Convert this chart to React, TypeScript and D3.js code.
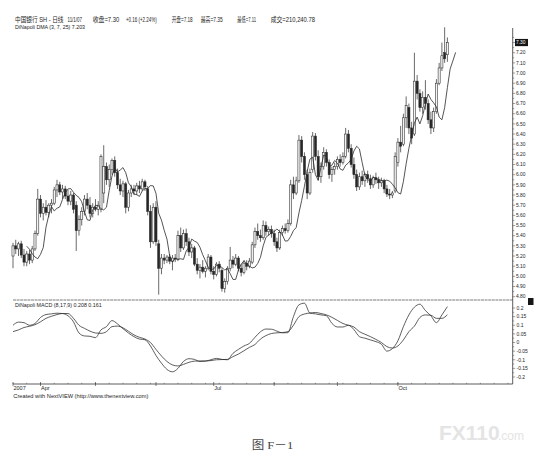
import React from "react";
import * as d3 from "d3";

// Daily OHLC for 中国银行 (SH), one entry per trading session
const opens = [
  5.20, 5.30, 5.27, 5.32, 5.21, 5.14, 5.22, 5.16, 5.27, 5.42,
  5.76, 5.62, 5.68, 5.63, 5.70, 5.72, 5.85, 5.90, 5.83, 5.86,
  5.79, 5.74, 5.80, 5.70, 5.45, 5.56, 5.64, 5.76, 5.70, 5.62,
  5.68, 5.66, 5.66, 5.82, 6.08, 5.95, 6.05, 6.14, 6.02, 5.90,
  5.84, 5.91, 5.68, 5.82, 5.86, 5.84, 5.89, 5.86, 5.93, 5.86,
  5.64, 5.34, 5.68, 5.32, 5.08, 5.18, 5.16, 5.19, 5.15, 5.18,
  5.17, 5.40, 5.28, 5.42, 5.34, 5.24, 5.28, 5.12, 5.06, 5.09,
  5.05, 5.08, 5.19, 5.05, 5.02, 5.12, 5.06, 4.88, 4.95, 5.08,
  5.16, 5.12, 5.18, 5.08, 5.04, 5.13, 5.10, 5.14, 5.31, 5.44,
  5.40, 5.38, 5.50, 5.44, 5.46, 5.42, 5.34, 5.28, 5.43, 5.47,
  5.45, 5.52, 5.90, 5.82, 5.94, 6.34, 6.18, 6.00, 5.82, 6.05,
  6.38, 6.18, 5.98, 6.08, 6.22, 6.12, 6.00, 6.05, 6.08, 6.15,
  6.12, 6.18, 6.40, 6.26, 6.10, 6.00, 5.88, 5.98, 5.94, 6.00,
  5.96, 5.90, 5.97, 5.95, 5.92, 5.94, 5.86, 5.81, 5.80, 5.84,
  6.12, 6.32, 6.30, 6.56, 6.66, 6.46, 6.40, 6.92, 6.80, 6.66,
  6.76, 6.70, 6.54, 6.46, 6.62, 6.90, 7.05, 7.20, 7.18,
];
const highs = [
  5.33, 5.36, 5.34, 5.35, 5.27, 5.25, 5.26, 5.30, 5.45, 5.86,
  5.80, 5.72, 5.75, 5.72, 5.76, 5.88, 5.95, 5.93, 5.90, 5.89,
  5.85, 5.84, 5.82, 5.74, 5.60, 5.68, 5.80, 5.82, 5.78, 5.72,
  5.76, 5.74, 6.20, 6.29, 6.12, 6.10, 6.16, 6.18, 6.06, 5.96,
  5.94, 5.93, 5.85, 5.90, 5.90, 5.92, 5.94, 5.96, 5.95, 5.89,
  5.70, 5.72, 5.74, 5.36, 5.22, 5.22, 5.21, 5.22, 5.21, 5.22,
  5.45, 5.48, 5.46, 5.47, 5.38, 5.32, 5.30, 5.18, 5.12, 5.16,
  5.10, 5.22, 5.21, 5.10, 5.14, 5.15, 5.08, 4.98, 5.10, 5.29,
  5.20, 5.22, 5.20, 5.12, 5.16, 5.16, 5.18, 5.34, 5.48, 5.52,
  5.46, 5.55, 5.54, 5.49, 5.50, 5.46, 5.38, 5.46, 5.50, 5.52,
  5.56, 5.95, 5.98, 5.98, 6.39, 6.38, 6.22, 6.05, 6.06, 6.42,
  6.41, 6.24, 6.12, 6.27, 6.25, 6.15, 6.08, 6.12, 6.18, 6.20,
  6.22, 6.46, 6.44, 6.30, 6.17, 6.05, 6.02, 6.04, 6.02, 6.04,
  6.00, 5.99, 6.02, 5.98, 5.97, 5.96, 5.90, 5.86, 5.84, 6.22,
  6.36, 6.48, 6.60, 6.77, 6.70, 6.52, 7.20, 6.98, 6.84, 6.82,
  6.93, 6.74, 6.62, 6.66, 6.94, 7.10, 7.30, 7.45, 7.35,
];
const lows = [
  5.08, 5.22, 5.20, 5.18, 5.10, 5.10, 5.12, 5.13, 5.25, 5.40,
  5.58, 5.55, 5.60, 5.58, 5.62, 5.70, 5.78, 5.80, 5.76, 5.76,
  5.70, 5.70, 5.62, 5.25, 5.40, 5.50, 5.60, 5.66, 5.58, 5.58,
  5.64, 5.60, 5.63, 5.72, 5.90, 5.88, 6.00, 5.98, 5.86, 5.80,
  5.78, 5.62, 5.64, 5.78, 5.80, 5.80, 5.82, 5.84, 5.84, 5.60,
  5.28, 5.32, 5.30, 4.82, 5.02, 5.12, 5.13, 5.12, 5.06, 5.14,
  5.15, 5.24, 5.26, 5.30, 5.20, 5.18, 5.10, 5.02, 4.98, 5.03,
  4.99, 5.06, 5.02, 4.97, 5.00, 5.04, 4.85, 4.84, 4.92, 5.05,
  5.08, 5.10, 5.05, 5.00, 5.02, 5.06, 5.08, 5.12, 5.28, 5.36,
  5.34, 5.36, 5.40, 5.40, 5.38, 5.30, 5.24, 5.26, 5.40, 5.42,
  5.43, 5.50, 5.76, 5.80, 5.92, 6.12, 5.95, 5.76, 5.80, 6.02,
  6.14, 5.94, 5.92, 6.05, 6.08, 5.96, 5.93, 6.00, 6.05, 6.08,
  6.10, 6.16, 6.22, 6.07, 5.96, 5.84, 5.85, 5.90, 5.88, 5.92,
  5.86, 5.87, 5.91, 5.86, 5.88, 5.82, 5.78, 5.76, 5.77, 5.82,
  6.08, 6.22, 6.28, 6.46, 6.40, 6.30, 6.38, 6.74, 6.62, 6.60,
  6.64, 6.50, 6.40, 6.42, 6.60, 6.88, 7.02, 7.10, 7.11,
];
const closes = [
  5.30, 5.27, 5.32, 5.21, 5.14, 5.22, 5.16, 5.27, 5.42, 5.76,
  5.62, 5.68, 5.63, 5.70, 5.72, 5.85, 5.90, 5.83, 5.86, 5.79,
  5.74, 5.80, 5.66, 5.45, 5.56, 5.64, 5.76, 5.70, 5.62, 5.68,
  5.66, 5.70, 6.18, 6.08, 5.95, 6.05, 6.14, 6.02, 5.90, 5.84,
  5.91, 5.68, 5.82, 5.86, 5.84, 5.89, 5.86, 5.93, 5.88, 5.64,
  5.34, 5.68, 5.34, 5.08, 5.18, 5.16, 5.19, 5.15, 5.18, 5.17,
  5.40, 5.28, 5.42, 5.34, 5.24, 5.28, 5.12, 5.06, 5.09, 5.05,
  5.08, 5.19, 5.05, 5.02, 5.12, 5.08, 4.88, 4.95, 5.08, 5.16,
  5.12, 5.18, 5.08, 5.04, 5.13, 5.10, 5.15, 5.31, 5.44, 5.40,
  5.38, 5.50, 5.44, 5.46, 5.42, 5.34, 5.28, 5.43, 5.47, 5.45,
  5.52, 5.90, 5.82, 5.94, 6.34, 6.18, 6.00, 5.82, 6.02, 6.38,
  6.18, 5.98, 6.08, 6.22, 6.12, 6.00, 6.05, 6.08, 6.15, 6.12,
  6.18, 6.40, 6.26, 6.10, 6.00, 5.88, 5.98, 5.94, 6.00, 5.96,
  5.90, 5.97, 5.95, 5.92, 5.94, 5.86, 5.81, 5.80, 5.82, 6.18,
  6.32, 6.28, 6.56, 6.68, 6.46, 6.36, 6.92, 6.80, 6.66, 6.76,
  6.70, 6.54, 6.46, 6.62, 6.90, 7.05, 7.17, 7.14, 7.30,
];

// DiNapoli MACD (8,17,9): one reading every second session
const macdLine = [
  0.10, 0.118, 0.115, 0.10, 0.11, 0.145, 0.162, 0.166, 0.17, 0.168,
  0.155, 0.12, 0.055, 0.038, 0.036, 0.028, 0.073, 0.092, 0.127, 0.108,
  0.08, 0.055, 0.034, 0.02, 0.016, -0.02, -0.075, -0.12, -0.156, -0.17,
  -0.15, -0.11, -0.094, -0.098, -0.11, -0.108, -0.1, -0.092, -0.098, -0.1,
  -0.063, -0.04, -0.02, -0.005, 0.03, 0.062, 0.078, 0.077, 0.066, 0.056,
  0.057, 0.15, 0.218, 0.228, 0.17, 0.166, 0.16, 0.155, 0.111, 0.09,
  0.09, 0.1, 0.075, 0.034, 0.025, 0.015, 0.005, -0.01, -0.05, -0.035,
  0.01, 0.092, 0.16, 0.205, 0.222, 0.185, 0.155, 0.115, 0.16, 0.208,
];
const signalLine = [
  0.063, 0.073, 0.087, 0.094, 0.103, 0.12, 0.14, 0.152, 0.162, 0.168,
  0.168, 0.14, 0.10, 0.082, 0.066, 0.055, 0.053, 0.063, 0.092, 0.095,
  0.085, 0.065, 0.044, 0.03, 0.02, 0.0, -0.04, -0.078, -0.11, -0.13,
  -0.136, -0.127, -0.115, -0.108, -0.107, -0.107, -0.105, -0.10, -0.099, -0.098,
  -0.082, -0.067, -0.048, -0.028, -0.012, 0.02, 0.04, 0.052, 0.056, 0.058,
  0.063, 0.10, 0.15, 0.165, 0.171, 0.174, 0.168, 0.16, 0.146, 0.128,
  0.11, 0.10, 0.09, 0.063, 0.048, 0.034, 0.018, 0.0, -0.024, -0.032,
  -0.02, 0.015, 0.063, 0.095, 0.145, 0.16, 0.158, 0.14, 0.14, 0.161,
];

const priceTickLabels = [
  "7.20", "7.10", "7.00", "6.90", "6.80", "6.70", "6.60", "6.50", "6.40",
  "6.30", "6.20", "6.10", "6.00", "5.90", "5.80", "5.70", "5.60", "5.50",
  "5.40", "5.30", "5.20", "5.10", "5.00", "4.90", "4.80",
];
const macdTickLabels = ["0.2", "0.15", "0.1", "0.05", "0", "-0.05", "-0.1", "-0.15", "-0.2"];
const dateLabels = ["2007", "Apr", "Jul", "Oct"];
const dateLabelSession = [0, 10, 73, 140];
const monthStartSession = [0, 10, 30, 52, 73, 95, 118, 140];
const volumeText = "210,240.78";

const INK = "#1c1c1c";
const FONT = "'Liberation Sans', Arial, 'Noto Sans CJK SC', sans-serif";

export default function App() {
  const n = closes.length;
  const last = n - 1;

  const x = d3.scaleLinear().domain([0, 181.5]).range([13, 512]);
  const y = d3.scaleLinear().domain([4.8, 7.2]).range([296.7, 52.7]);
  const ym = d3.scaleLinear().domain([-0.2, 0.2]).range([377, 308]);

  // 3x3 displaced moving average: 3-session SMA shifted 3 sessions forward
  const dma: [number, number][] = [];
  for (let i = 2; i < n; i++) {
    dma.push([i + 3, (closes[i] + closes[i - 1] + closes[i - 2]) / 3]);
  }
  const dmaPath = d3
    .line<[number, number]>()
    .x((d) => x(d[0]))
    .y((d) => y(d[1]))(dma) as string;

  const macdGen = d3
    .line<number>()
    .x((_, i) => x(i * 2))
    .y((d) => ym(d))
    .curve(d3.curveMonotoneX);

  const change = closes[last] - closes[last - 1];
  const pct = (change / closes[last - 1]) * 100;
  const dmaLast = dma[dma.length - 1][1];

  const header = [
    { t: "中国银行 SH - 日线", x: 15, w: 48.5 },
    { t: "11/1/07", x: 67.5, w: 14.5 },
    { t: `收盘=${closes[last].toFixed(2)}`, x: 92.7, w: 26.6 },
    { t: `+${change.toFixed(2)} (+${pct.toFixed(2)}%)`, x: 126, w: 30.7 },
    { t: `开盘=${opens[last].toFixed(2)}`, x: 171.7, w: 21 },
    { t: `最高=${highs[last].toFixed(2)}`, x: 200.7, w: 22 },
    { t: `最低=${lows[last].toFixed(2)}`, x: 237.3, w: 18.7 },
    { t: `成交=${volumeText}`, x: 270.7, w: 44.3 },
  ];

  const axisX = 512.7;
  const priceMinor = d3.range(4.8, 7.351, 0.05);
  const macdMinor = d3.range(-0.2, 0.2001, 0.025);
  const weekTicks = d3.range(0, 182, 5);

  const bodyW = 2.1;

  return (
    <svg
      width={553}
      height={470}
      viewBox="0 0 553 470"
      style={{ position: "absolute", left: 0, top: 0, background: "#fff" }}
      fontFamily={FONT}
    >
      <rect x={0} y={0} width={553} height={470} fill="#fff" />

      {/* header */}
      {header.map((h, i) => (
        <text
          key={i}
          x={h.x}
          y={22}
          fontSize={6.3}
          fill={INK}
          textLength={h.w}
          lengthAdjust="spacingAndGlyphs"
        >
          {h.t}
        </text>
      ))}
      <text x={15} y={29} fontSize={6} fill={INK} textLength={70} lengthAdjust="spacingAndGlyphs">
        {`DiNapoli DMA (3, 7, 25) ${dmaLast.toFixed(3)}`}
      </text>

      {/* candlesticks */}
      <g>
        {closes.map((c, i) => {
          const o = opens[i];
          const up = c >= o;
          const top = y(Math.max(o, c));
          const bot = y(Math.min(o, c));
          const cx = x(i);
          return (
            <g key={i}>
              <line x1={cx} x2={cx} y1={y(highs[i])} y2={y(lows[i])} stroke="#2a2a2a" strokeWidth={0.7} />
              <rect
                x={cx - bodyW / 2}
                y={top}
                width={bodyW}
                height={Math.max(0.8, bot - top)}
                fill={up ? "#f4f4f4" : "#262626"}
                stroke="#2a2a2a"
                strokeWidth={0.55}
              />
            </g>
          );
        })}
      </g>

      {/* displaced moving average */}
      <path d={dmaPath} fill="none" stroke="#2a2a2a" strokeWidth={0.8} />

      {/* price axis */}
      <line x1={axisX} x2={axisX} y1={28} y2={384} stroke="#333" strokeWidth={0.8} />
      {priceMinor.map((v, i) => (
        <line
          key={i}
          x1={axisX}
          x2={axisX + (i % 2 === 0 ? 2.5 : 1.5)}
          y1={y(v)}
          y2={y(v)}
          stroke="#444"
          strokeWidth={0.5}
        />
      ))}
      {priceTickLabels.map((l) => (
        <text key={l} x={516} y={y(+l)} dy="0.35em" fontSize={5} fill={INK} textLength={9.5} lengthAdjust="spacingAndGlyphs">
          {l}
        </text>
      ))}
      <rect x={515} y={y(closes[last]) - 3.6} width={13} height={7.2} fill="#151515" />
      <text x={516} y={y(closes[last])} dy="0.35em" fontSize={5} fill="#fff" textLength={9.5} lengthAdjust="spacingAndGlyphs">
        {closes[last].toFixed(2)}
      </text>

      {/* MACD pane */}
      <line x1={13} x2={axisX} y1={300} y2={300} stroke="#444" strokeWidth={0.7} strokeDasharray="3 0.6" />
      <text x={15} y={307} fontSize={5.5} fill={INK} textLength={86.7} lengthAdjust="spacingAndGlyphs">
        {`DiNapoli MACD (8,17,9) ${macdLine[macdLine.length - 1].toFixed(3)} ${signalLine[signalLine.length - 1].toFixed(3)}`}
      </text>
      <path d={macdGen(macdLine) as string} fill="none" stroke="#2a2a2a" strokeWidth={0.75} />
      <path d={macdGen(signalLine) as string} fill="none" stroke="#2a2a2a" strokeWidth={0.75} />
      {macdMinor.map((v, i) => (
        <line
          key={i}
          x1={axisX}
          x2={axisX + (i % 2 === 0 ? 2.5 : 1.5)}
          y1={ym(v)}
          y2={ym(v)}
          stroke="#444"
          strokeWidth={0.5}
        />
      ))}
      {macdTickLabels.map((l) => (
        <text key={l} x={516.5} y={ym(+l)} dy="0.35em" fontSize={5} fill={INK}>
          {l}
        </text>
      ))}
      <rect x={528} y={298} width={5.5} height={7} fill="#151515" />

      {/* date axis */}
      <line x1={13} x2={axisX} y1={384} y2={384} stroke="#333" strokeWidth={0.8} />
      {weekTicks.map((s) => (
        <line key={s} x1={x(s)} x2={x(s)} y1={382.8} y2={384} stroke="#444" strokeWidth={0.5} />
      ))}
      {monthStartSession.map((s) => (
        <line key={s} x1={x(s)} x2={x(s)} y1={382} y2={386} stroke="#333" strokeWidth={0.6} />
      ))}
      {dateLabels.map((l, i) => (
        <text key={l} x={x(dateLabelSession[i]) + 0.5} y={390} fontSize={5.5} fill={INK}>
          {l}
        </text>
      ))}
      <text x={13.3} y={397.5} fontSize={5.5} fill={INK} textLength={135} lengthAdjust="spacingAndGlyphs">
        Created with NextVIEW (http://www.thenextview.com)
      </text>

      {/* figure caption */}
      <text
        x={251.7}
        y={448.5}
        fontSize={11}
        fill="#444"
        textLength={41.5}
        lengthAdjust="spacingAndGlyphs"
        fontFamily="'Liberation Serif', 'Noto Sans CJK SC', serif"
      >
        图 F－1
      </text>

      {/* watermark */}
      <text x={439} y={440} fontSize={21} fontWeight="bold" fill="#e4e4e4" fontFamily="'Liberation Sans', Arial, sans-serif">
        FX110
      </text>
      <text x={498} y={440} fontSize={12} fill="#e4e4e4" fontFamily="'Liberation Sans', Arial, sans-serif">
        .com
      </text>
    </svg>
  );
}
